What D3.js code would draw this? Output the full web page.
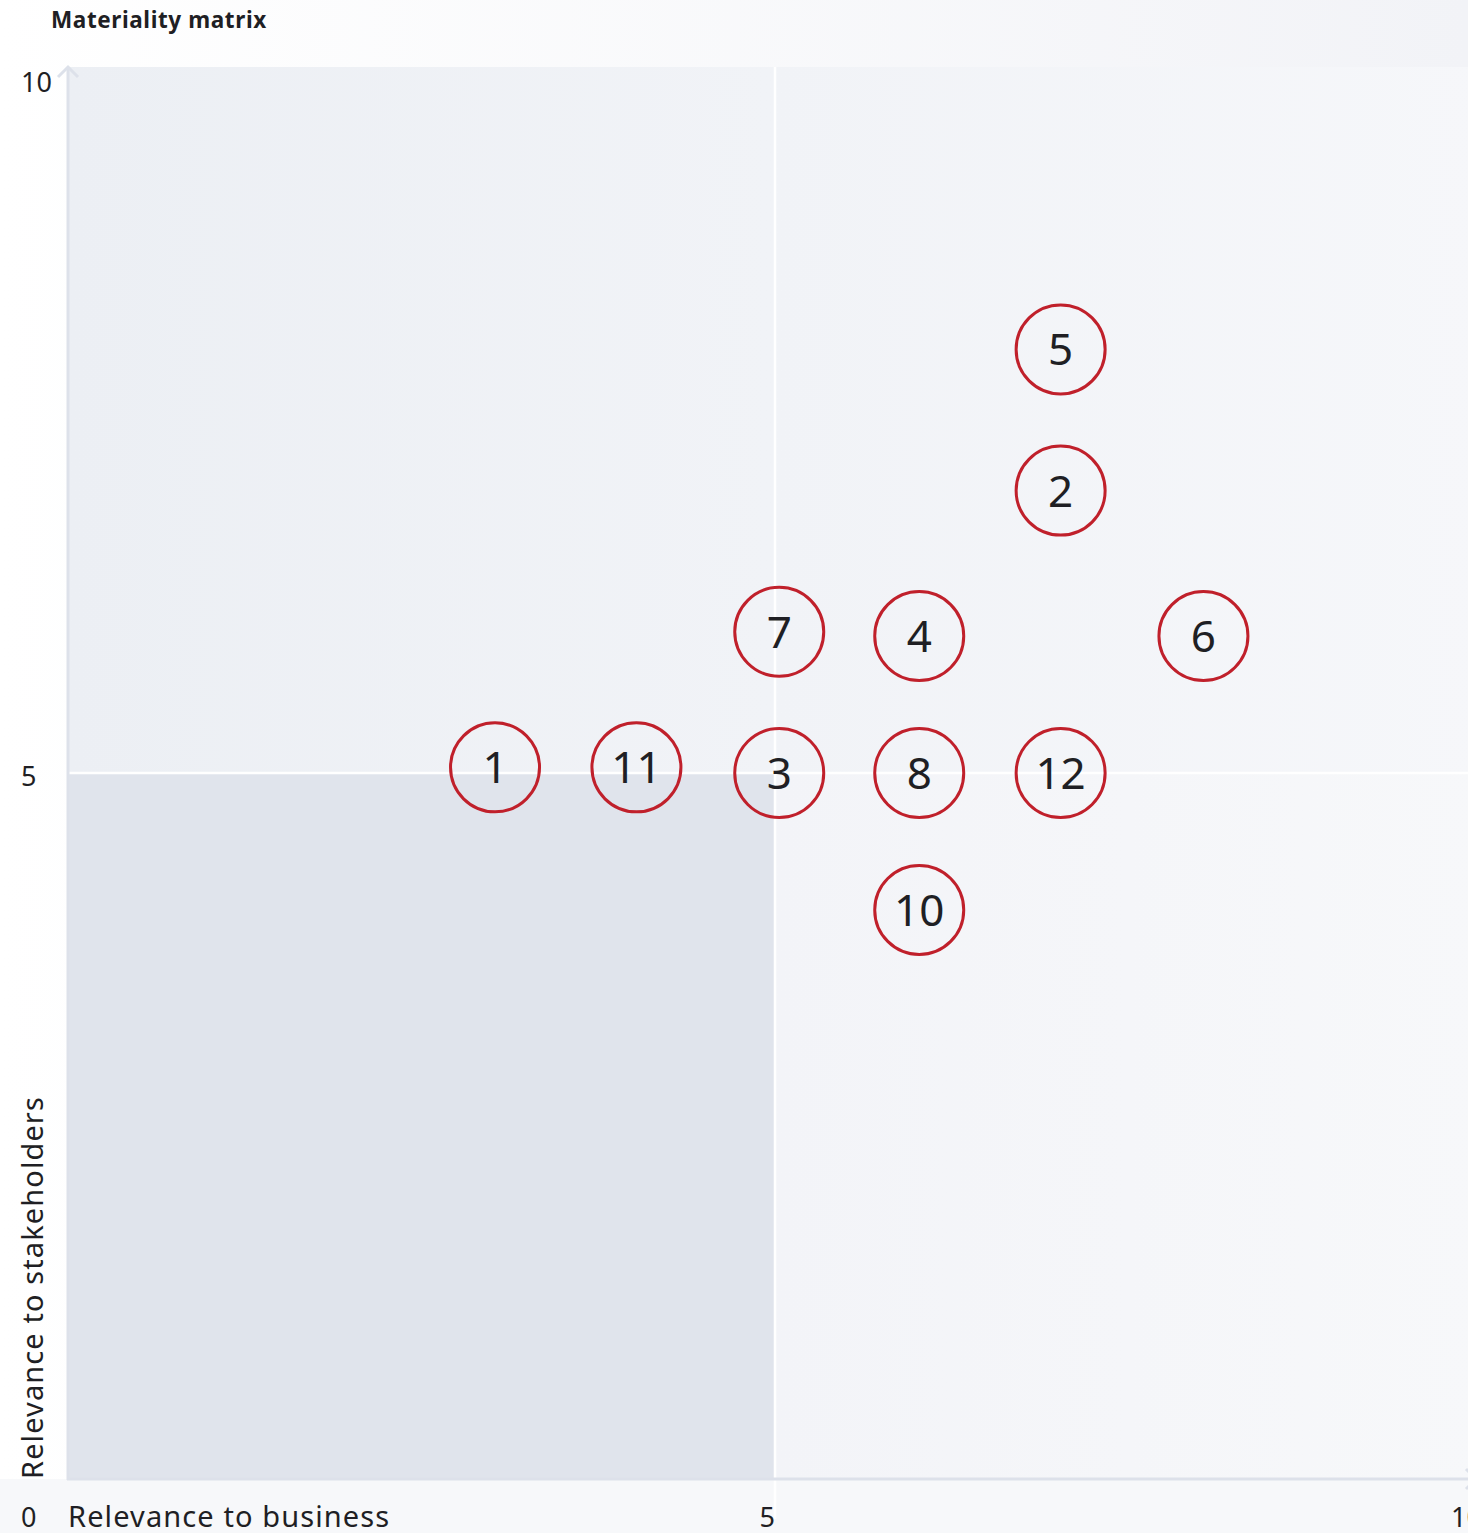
<!DOCTYPE html>
<html>
<head>
<meta charset="utf-8">
<script src="https://cdn.jsdelivr.net/npm/d3@7"></script>
<style>
  html, body { margin: 0; padding: 0; }
  body { width: 1468px; height: 1533px; overflow: hidden; font-family: "Noto Sans", sans-serif; }
</style>
</head>
<body>
<div id="chart"></div>
<script>
// topic numbers with their position: x = relevance to business, y = relevance to stakeholders
const topics = ["1", "2", "3", "4", "5", "6", "7", "8", "10", "11", "12"];
const business = [3.02, 7.02, 5.03, 6.02, 7.02, 8.03, 5.03, 6.02, 6.02, 4.02, 7.02];
const stakeholders = [5.04, 7.0, 5.0, 5.97, 8.0, 5.97, 6.0, 5.0, 4.03, 5.04, 5.0];
const xTicks = [5, 10];
const yTicks = [10, 5];

const W = 1468, H = 1533;
const x = d3.scaleLinear().domain([0, 10]).range([68, 1482]);
const y = d3.scaleLinear().domain([0, 10]).range([1479, 67]);

const svg = d3.select("#chart").append("svg")
  .attr("width", W).attr("height", H);

const defs = svg.append("defs");
function grad(id, stops) {
  const g = defs.append("linearGradient").attr("id", id)
    .attr("x1", "0%").attr("x2", "100%").attr("y1", "0%").attr("y2", "0%");
  stops.forEach(([o, c]) => g.append("stop").attr("offset", o).attr("stop-color", c));
}
grad("page", [["0%", "#ffffff"], ["100%", "#f2f3f7"]]);
grad("top", [["0%", "#eceff4"], ["100%", "#f6f7fa"]]);
grad("right", [["0%", "#f3f4f8"], ["100%", "#f7f8fa"]]);

svg.append("rect").attr("width", W).attr("height", H).attr("fill", "url(#page)");
svg.append("rect").attr("x", 0).attr("y", y(0)).attr("width", W).attr("height", H - y(0))
  .attr("fill", "#f7f8fa");

// quadrants
svg.append("rect")
  .attr("x", x(0)).attr("y", y(10))
  .attr("width", x(10) - x(0)).attr("height", y(5) - y(10))
  .attr("fill", "url(#top)");
svg.append("rect")
  .attr("x", x(0)).attr("y", y(5))
  .attr("width", x(5) - x(0)).attr("height", y(0) - y(5))
  .attr("fill", "#e0e4ec");
svg.append("rect")
  .attr("x", x(5)).attr("y", y(5))
  .attr("width", x(10) - x(5)).attr("height", y(0) - y(5))
  .attr("fill", "url(#right)");

// white mid lines
svg.append("line")
  .attr("x1", x(5)).attr("x2", x(5)).attr("y1", y(10)).attr("y2", y(0) + 40)
  .attr("stroke", "#ffffff").attr("stroke-width", 2.5);
svg.append("line")
  .attr("x1", x(0)).attr("x2", x(10)).attr("y1", y(5)).attr("y2", y(5))
  .attr("stroke", "#ffffff").attr("stroke-width", 2.5);

// axes with arrow heads
const axisColor = "#dde1ea";
svg.append("line")
  .attr("x1", x(0)).attr("x2", x(0)).attr("y1", y(10)).attr("y2", y(0) + 1)
  .attr("stroke", axisColor).attr("stroke-width", 3);
svg.append("line")
  .attr("x1", x(0) - 1).attr("x2", x(10)).attr("y1", y(0)).attr("y2", y(0))
  .attr("stroke", axisColor).attr("stroke-width", 3);
svg.append("path")
  .attr("d", `M${x(0) - 10},${y(10) + 10} L${x(0)},${y(10)} L${x(0) + 10},${y(10) + 10}`)
  .attr("fill", "none").attr("stroke", axisColor).attr("stroke-width", 3);
svg.append("path")
  .attr("d", `M${x(10) - 16},${y(0) - 10} L${x(10) - 6},${y(0)} L${x(10) - 16},${y(0) + 10}`)
  .attr("fill", "none").attr("stroke", axisColor).attr("stroke-width", 3);

// title
svg.append("text")
  .attr("x", 51).attr("y", 28)
  .attr("font-size", 22.5).attr("font-weight", 700).attr("fill", "#1f1f24")
  .attr("letter-spacing", 0.6)
  .text("Materiality matrix");

// y tick labels
svg.selectAll("text.ytick").data(yTicks).join("text")
  .attr("class", "ytick")
  .attr("x", 21)
  .attr("y", d => y(d) + (d === 10 ? 25 : 13))
  .attr("font-size", 27).attr("fill", "#1f1f24")
  .text(d => d);
svg.append("text")
  .attr("x", 21).attr("y", 1527)
  .attr("font-size", 27).attr("fill", "#1f1f24")
  .text("0");

// x tick labels
svg.selectAll("text.xtick").data(xTicks).join("text")
  .attr("class", "xtick")
  .attr("x", d => x(d))
  .attr("y", 1527)
  .attr("text-anchor", "end")
  .attr("font-size", 27).attr("fill", "#1f1f24")
  .text(d => d);

// axis titles
svg.append("text")
  .attr("x", 68).attr("y", 1527)
  .attr("font-size", 29).attr("letter-spacing", 1.1).attr("fill", "#1f1f24")
  .text("Relevance to business");
svg.append("text")
  .attr("transform", `translate(43,${y(0)}) rotate(-90)`)
  .attr("font-size", 29).attr("letter-spacing", 1.1).attr("fill", "#1f1f24")
  .text("Relevance to stakeholders");

// topic circles
const pts = topics.map((t, i) => ({ t, bx: business[i], sy: stakeholders[i] }));
const g = svg.selectAll("g.topic").data(pts).join("g")
  .attr("class", "topic")
  .attr("transform", d => `translate(${x(d.bx)},${y(d.sy)})`);
g.append("circle")
  .attr("r", 44.5)
  .attr("fill", "none")
  .attr("stroke", "#c0202b")
  .attr("stroke-width", 3);
g.append("text")
  .attr("text-anchor", "middle")
  .attr("dy", 16)
  .attr("font-size", 44)
  .attr("fill", "#1f1f24")
  .text(d => d.t);
</script>
</body>
</html>
